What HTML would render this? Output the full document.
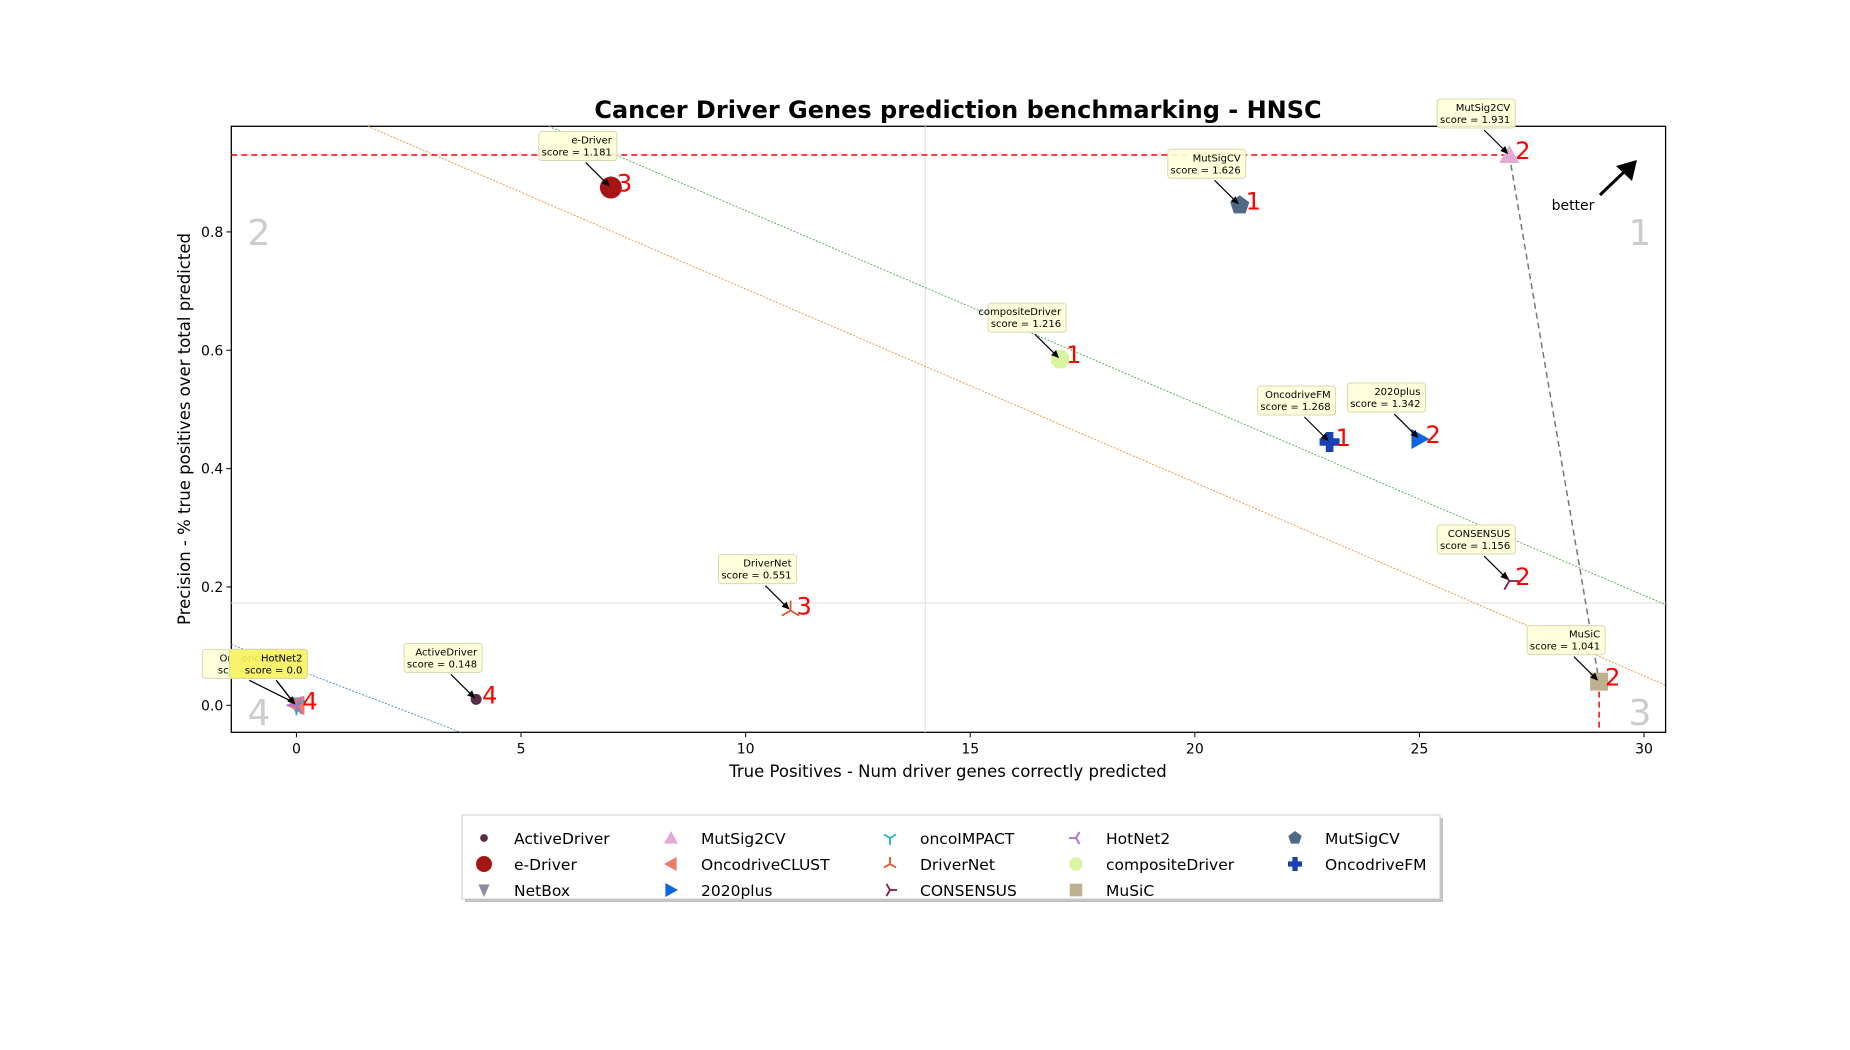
<!DOCTYPE html>
<html><head><meta charset="utf-8">
<style>
html,body{margin:0;padding:0;background:#fff;}
svg{display:block;font-family:"DejaVu Sans","Liberation Sans",sans-serif;}
</style></head>
<body>
<svg id="chart" width="1850" height="1050" viewBox="0 0 1850 1050" xmlns="http://www.w3.org/2000/svg">
<text x="958" y="118" text-anchor="middle" font-size="24" font-weight="bold">Cancer Driver Genes prediction benchmarking - HNSC</text>
<rect x="231.3" y="126.3" width="1434.3" height="606" fill="none" stroke="#000" stroke-width="1.3"/>
<g id="grid"></g>
<g id="lines"></g>
<g id="marks"></g>
<g id="annots"></g>
<g id="axes"></g>
<text x="948" y="777" text-anchor="middle" font-size="16.5">True Positives - Num driver genes correctly predicted</text>
<text transform="translate(190,429) rotate(-90)" text-anchor="middle" font-size="16.5">Precision - % true positives over total predicted</text>
<text x="1573" y="210" text-anchor="middle" font-size="14">better</text>
<line x1="1600" y1="195" x2="1625" y2="171" stroke="#000" stroke-width="3"/>
<polygon points="1637,160 1632,181 1616,166" fill="#000"/>
<text x="259" y="245" text-anchor="middle" font-size="36" fill="#ccc">2</text>
<text x="1640" y="245" text-anchor="middle" font-size="36" fill="#ccc">1</text>
<text x="259" y="725" text-anchor="middle" font-size="36" fill="#ccc">4</text>
<text x="1640" y="725" text-anchor="middle" font-size="36" fill="#ccc">3</text>
<g>
<rect x="465" y="818" width="978" height="84" fill="#888" opacity="0.5"/>
<rect x="462" y="815" width="978" height="84" fill="#fff" stroke="#ccc" stroke-width="1"/>
<g id="legend-items"></g>
</g>
</svg>
<script>
const names = ["ActiveDriver","e-Driver","NetBox","MutSig2CV","OncodriveCLUST","2020plus","oncoIMPACT","DriverNet","CONSENSUS","HotNet2","compositeDriver","MuSiC","MutSigCV","OncodriveFM"];
const truePositives = [4,7,0,27,0,25,0,11,27,0,17,29,21,23];
const precision = [0.01,0.875,0,0.93,0,0.45,0,0.16,0.21,0,0.585,0.04,0.845,0.445];
const scores = ["0.148","1.181","0.0","1.931","0.0","1.342","0.0","0.551","1.156","0.0","1.216","1.041","1.626","1.268"];
const ranks = ["4","3","4","2","4","2","4","3","2","4","1","2","1","1"];
const xTicks = [0,5,10,15,20,25,30];
const yTicks = [0.0,0.2,0.4,0.6,0.8];
const colors = ["#5a2d4a","#a51515","#8f8aa8","#e4a9d4","#f07a68","#0f64e0","#1fb5c0","#e0542a","#8b1a4a","#b36ad8","#d8f5a0","#bfb090","#4f6a85","#1a3fb3"];
const shapes = ["circle","bigcircle","tridown","triup","trileft","triright","y","tri3","tri4","tri2","octagon","square","pentagon","plus"];

const NS="http://www.w3.org/2000/svg";
const L=231.3,R=1665.6,T=126.3,B=732.3,XMIN=-1.45,XMAX=30.48,YMIN=-0.0456,YMAX=0.9785;
function sx(v){return L+(v-XMIN)/(XMAX-XMIN)*(R-L);}
function sy(v){return B-(v-YMIN)/(YMAX-YMIN)*(B-T);}
function mk(tag,attrs,parent){const e=document.createElementNS(NS,tag);for(const k in attrs)e.setAttribute(k,attrs[k]);parent.appendChild(e);return e;}
const G=id=>document.getElementById(id);

let g=mk('line',{x1:sx(14),x2:sx(14),y1:T,y2:B,stroke:'#e2e2e2','stroke-width':1.2},G('grid'));


g=mk('line',{x1:L,x2:R,y1:sy(0.173),y2:sy(0.173),stroke:'#e2e2e2','stroke-width':1.2},G('grid'));



function seg(x1,y1,x2,y2,col,dash,w,name){const e=mk('line',{x1:sx(x1),y1:sy(y1),x2:sx(x2),y2:sy(y2),stroke:col,'stroke-dasharray':dash,'stroke-width':w},G('lines'));

}
seg(5.62,YMAX,XMAX,0.17,'#4daf4a','2,1.5',0.9,'green-diagonal');
seg(1.59,YMAX,XMAX,0.034,'#ff8c30','2,1.5',0.9,'orange-diagonal');
seg(XMIN,0.103,3.66,YMIN,'#3a8fd0','2,1.5',0.9,'blue-diagonal');
seg(XMIN,precision[3],truePositives[3],precision[3],'#ff0000','6,4',1.5,'pareto-horizontal');
seg(truePositives[3],precision[3],truePositives[11],precision[11],'#777','6,4',1.5,'pareto-connector');
seg(truePositives[11],precision[11],truePositives[11],YMIN,'#ff0000','6,4',1.5,'pareto-vertical');

xTicks.forEach(t=>{const x=sx(t);mk('line',{x1:x,x2:x,y1:B,y2:B+5,stroke:'#000'},G('axes'));
const e=mk('text',{x:x,y:B+21,'text-anchor':'middle','font-size':14},G('axes'));e.textContent=t;

});
yTicks.forEach(t=>{const y=sy(t);mk('line',{x1:L-5,x2:L,y1:y,y2:y,stroke:'#000'},G('axes'));
const e=mk('text',{x:L-8,y:y+5,'text-anchor':'end','font-size':14},G('axes'));e.textContent=t.toFixed(1);

});

function drawShape(p,shape,cx,cy,col,s){
  switch(shape){
    case 'circle': return mk('circle',{cx,cy,r:s*0.55,fill:col},p);
    case 'bigcircle': return mk('circle',{cx,cy,r:s,fill:col},p);
    case 'square': return mk('rect',{x:cx-s*0.9,y:cy-s*0.9,width:s*1.8,height:s*1.8,fill:col},p);
    case 'triup': return mk('polygon',{points:`${cx},${cy-s} ${cx-s},${cy+s*0.8} ${cx+s},${cy+s*0.8}`,fill:col},p);
    case 'tridown': return mk('polygon',{points:`${cx},${cy+s} ${cx-s*0.8},${cy-s*0.8} ${cx+s*0.8},${cy-s*0.8}`,fill:col},p);
    case 'trileft': return mk('polygon',{points:`${cx-s},${cy} ${cx+s*0.8},${cy-s} ${cx+s*0.8},${cy+s}`,fill:col},p);
    case 'triright': return mk('polygon',{points:`${cx+s},${cy} ${cx-s*0.8},${cy-s} ${cx-s*0.8},${cy+s}`,fill:col},p);
    case 'pentagon': {let pts=[];for(let i=0;i<5;i++){const an=-Math.PI/2+i*2*Math.PI/5;pts.push((cx+s*Math.cos(an))+','+(cy+s*Math.sin(an)));}return mk('polygon',{points:pts.join(' '),fill:col},p);}
    case 'octagon': {let pts=[];for(let i=0;i<8;i++){const an=Math.PI/8+i*Math.PI/4;pts.push((cx+s*Math.cos(an))+','+(cy+s*Math.sin(an)));}return mk('polygon',{points:pts.join(' '),fill:col},p);}
    case 'plus': {const w=s*0.38;return mk('path',{d:`M${cx-w},${cy-s}h${2*w}v${s-w}h${s-w}v${2*w}h${-(s-w)}v${s-w}h${-2*w}v${-(s-w)}h${-(s-w)}v${-2*w}h${s-w}z`,fill:col},p);}
    default: {
      const ang={y:[90,210,330],tri3:[270,30,150],tri4:[0,120,240],tri2:[180,300,60]}[shape];
      const gg=mk('g',{},p);
      ang.forEach(d=>{const r=d*Math.PI/180;mk('line',{x1:cx,y1:cy,x2:cx+s*Math.cos(r),y2:cy+s*Math.sin(r),stroke:col,'stroke-width':1.8},gg);});
      return gg;}
  }
}

names.forEach((n,i)=>{
  const cx=sx(truePositives[i]),cy=sy(precision[i]);
  const s=(shapes[i]==='bigcircle')?11:10;
  const m=drawShape(G('marks'),shapes[i],cx,cy,colors[i],s);
  
  
});

names.forEach((n,i)=>{
  const cx=sx(truePositives[i]),cy=sy(precision[i]);
  const zero=truePositives[i]===0;
  let ox=-33,oy=-40,bw=78,fill='#ffffd8';
  if(zero){ if(n==='NetBox'){ox=-55;} else {ox=-28;fill='#f7f36a';} }
  const ag=mk('g',{},G('annots'));
  
  
  const bx=cx+ox-bw/2,by=cy+oy-16;
  mk('rect',{x:bx,y:by,width:bw,height:29,rx:3,fill:fill,'fill-opacity':0.9,stroke:'#d8d8b0','stroke-width':1},ag);
  const t1=mk('text',{x:bx+bw-5,y:by+12,'text-anchor':'end','font-size':10},ag);t1.textContent=n;
  const t2=mk('text',{x:bx+bw-5,y:by+24,'text-anchor':'end','font-size':10},ag);t2.textContent='score = '+scores[i];
  mk('line',{x1:bx+bw*0.6,y1:by+31,x2:cx-3,y2:cy-3,stroke:'#000','stroke-width':1.2},ag);
  mk('polygon',{points:`${cx-1},${cy-1} ${cx-9},${cy-4} ${cx-4},${cy-9}`,fill:'#000'},ag);
  if(!zero||n==='HotNet2'){
    const r=mk('text',{x:cx+6,y:cy+4,'font-size':24,fill:'#ff0000'},ag);r.textContent=ranks[i];
  }
});

const colX=[484,671,890,1076,1295],rowY=[838,864,890];
names.forEach((n,i)=>{
  const c=Math.floor(i/3),r=i%3;
  const lg=mk('g',{},G('legend-items'));
  
  
  drawShape(lg,shapes[i],colX[c],rowY[r],colors[i],shapes[i]==='bigcircle'?8:7);
  const t=mk('text',{x:colX[c]+30,y:rowY[r]+6,'font-size':15.5},lg);t.textContent=n;
});
</script>
</body></html>
